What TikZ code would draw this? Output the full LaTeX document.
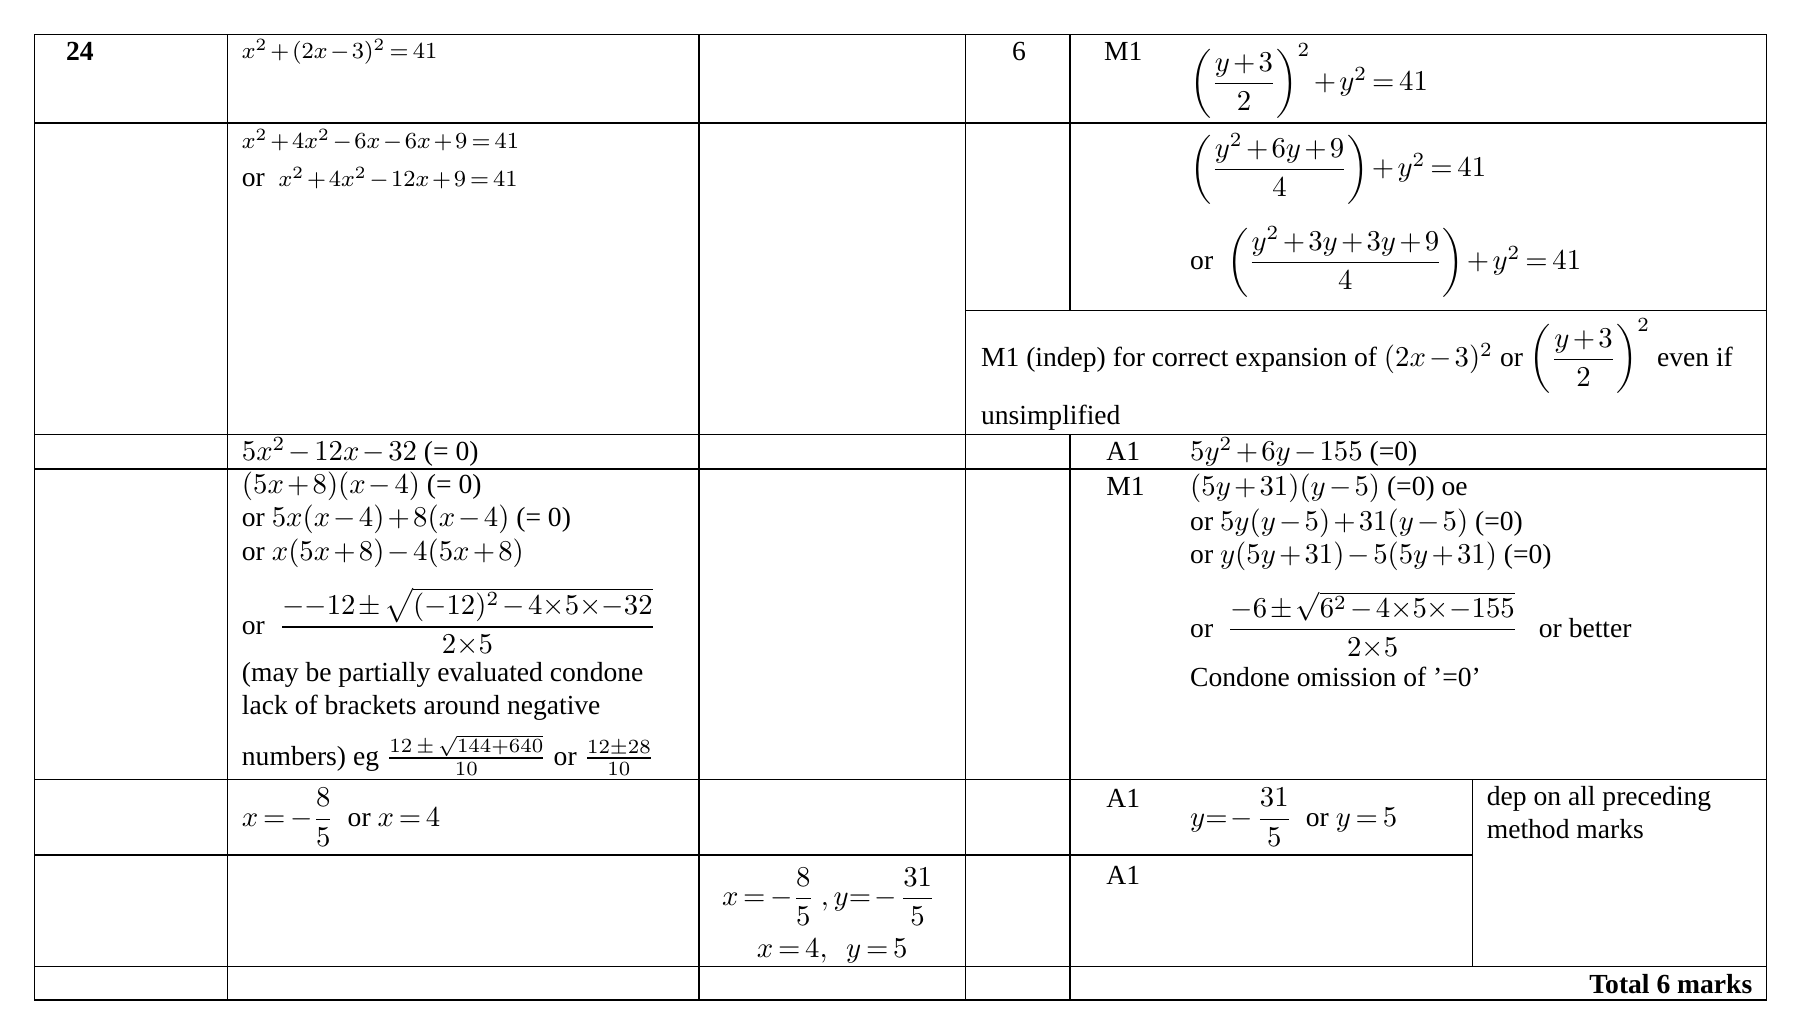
\documentclass[tikz,border=0pt]{standalone}
\usepackage{amsmath}
\usepackage{fontspec}
\setmainfont{Liberation Serif}
\medmuskip=2mu plus 1mu minus 1mu
\thickmuskip=3mu plus 2mu
\begin{document}
\begin{tikzpicture}[x=0.4pt,y=-0.4pt,
  txt/.style={anchor=west,inner sep=0pt,font=\fontsize{9.6}{11.2}\selectfont},
  grid/.style={line width=0.5pt}]
\useasboundingbox (0,0) rectangle (1566,899.5);
% grid
\draw[grid] (30,30) rectangle (1537,870);
\foreach \y in {107,378,408,678,841} \draw[grid] (30,\y) -- (1537,\y);
\draw[grid] (30,744) -- (1281,744);
\draw[grid] (840,270) -- (1537,270);
\foreach \x in {198,608,840} \draw[grid] (\x,30) -- (\x,870);
\draw[grid] (931,30) -- (931,270);
\draw[grid] (931,378) -- (931,870);
\draw[grid] (1281,678) -- (1281,841);
% row 1
\node[txt,font=\fontsize{9.6}{11}\bfseries] (n24) at (57,45) {24};
\node[txt,font=\fontsize{8.5}{10}\selectfont] (r1a) at (210,45) {$x^2+(2x-3)^2=41$};
\node[txt] (r1m) at (880,45) {6};
\node[txt] (r1b) at (960,45) {M1};
\node[txt] (r1c) at (1035,70) {$\left(\dfrac{y+3}{2}\right)^{2}+y^2=41$};
% row 2
\node[txt,font=\fontsize{8.5}{10}\selectfont] (r2a) at (210,122) {$x^2+4x^2-6x-6x+9=41$};
\node[txt] (r2b) at (210,155) {or\ \ {\fontsize{8.5}{10}\selectfont$x^2+4x^2-12x+9=41$}};
\node[txt] (r2c) at (1035,147) {$\left(\dfrac{y^2+6y+9}{4}\right)+y^2=41$};
\node[txt] (r2d) at (1035,228) {or\ \ $\left(\dfrac{y^2+3y+3y+9}{4}\right)+y^2=41$};
\node[txt] (r2e) at (853,310) {M1 (indep) for correct expansion of $(2x-3)^2$ or $\left(\dfrac{y+3}{2}\right)^{2}$ even if};
\node[txt] (r2f) at (853,363) {unsimplified};
% row 3
\node[txt] (r3a) at (210,393) {$5x^2-12x-32$ (= 0)};
\node[txt] (r3b) at (962,393) {A1};
\node[txt] (r3c) at (1035,393) {$5y^2+6y-155$ (=0)};
% row 4
\node[txt] (r4a) at (210,423) {$(5x+8)(x-4)$ (= 0)};
\node[txt] (r4b) at (210,452) {or $5x(x-4)+8(x-4)$ (= 0)};
\node[txt] (r4c) at (210,481) {or $x(5x+8)-4(5x+8)$};
\node[txt] (r4d) at (210,541) {or\ \ $\dfrac{-{-12}\pm\sqrt{(-12)^2-4{\times}5{\times}{-32}}}{2{\times}5}$};
\node[txt] (r4e) at (210,587) {(may be partially evaluated condone};
\node[txt] (r4f) at (210,616) {lack of brackets around negative};
\node[txt] (r4g) at (210,657) {numbers) eg {\sffamily$\frac{12\,\pm\,\sqrt{144+640}}{10}$} or {\sffamily$\frac{12\pm28}{10}$}};
\node[txt] (r4h) at (962,423) {M1};
\node[txt] (r4i) at (1035,425) {$(5y+31)(y-5)$ (=0) oe};
\node[txt] (r4j) at (1035,455) {or $5y(y-5)+31(y-5)$ (=0)};
\node[txt] (r4k) at (1035,484) {or $y(5y+31)-5(5y+31)$ (=0)};
\node[txt] (r4l) at (1035,544) {or\ \ $\dfrac{-6\pm\sqrt{6^2-4{\times}5{\times}{-155}}}{2{\times}5}$\ \ \ or better};
\node[txt] (r4m) at (1035,589) {Condone omission of '=0'};
% row 5
\node[txt] (r5a) at (210,711) {$x=-\dfrac{8}{5}$\ \ or $x=4$};
\node[txt] (r5b) at (962,695) {A1};
\node[txt] (r5c) at (1035,711) {$y{=}-\dfrac{31}{5}$\ \ or $y=5$};
\node[txt,align=left,anchor=north west] (r5d) at (1293,684) {dep on all preceding\\method marks};
% row 6
\node[txt] (r6a) at (962,762) {A1};
\node[txt,anchor=center] (r6b) at (721,780) {$x=-\dfrac{8}{5}\ ,y{=}-\dfrac{31}{5}$};
\node[txt,anchor=center] (r6c) at (724,827) {$x=4,\ \ y=5$};
% row 7
\node[txt,anchor=east,font=\fontsize{9.6}{11}\bfseries] (tot) at (1525,856) {Total 6 marks};
\end{tikzpicture}
\end{document}
